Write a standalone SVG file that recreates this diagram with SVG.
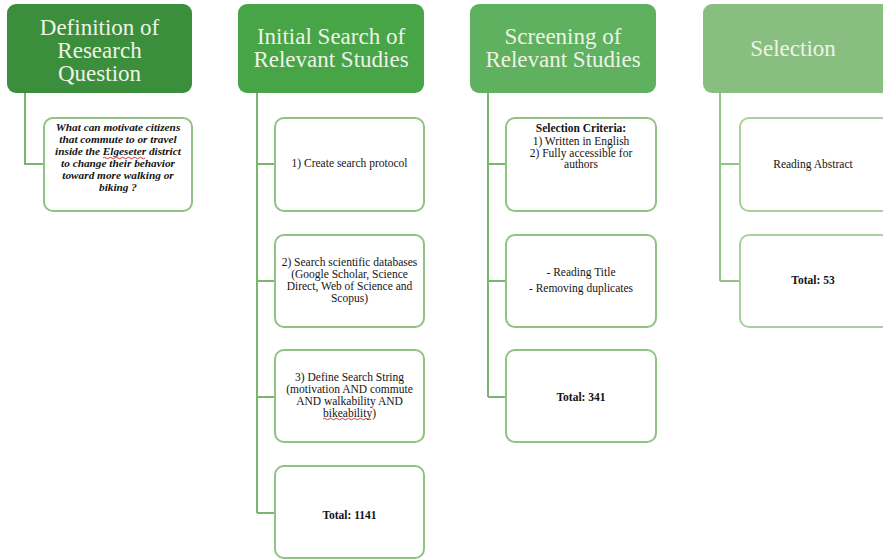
<svg xmlns="http://www.w3.org/2000/svg" width="883" height="560" viewBox="0 0 883 560">
<style>
.hd text{font-family:"Liberation Serif","Times New Roman",serif;font-size:23px;fill:#eef3e6;text-anchor:middle}
.bx rect{fill:#ffffff;stroke:#8fc283;stroke-width:2}
.c4 rect{stroke:#a9d09c}
.t{font-family:"Liberation Serif","Times New Roman",serif;font-size:11.5px;fill:#141414;text-anchor:middle}
.b{font-weight:bold}
.q{font-weight:bold;font-style:italic;font-size:11.3px}
.cn{fill:none;stroke:#7ab670;stroke-width:2}
.sq{fill:none;stroke:#d42020;stroke-width:0.9}
</style>
<rect width="883" height="560" fill="#ffffff"/>
<g id="connectors">
<path class="cn" d="M25 93V164H44"/>
<path class="cn" d="M257 93V513M257 164H275M257 281H275M257 397H275M257 513H275"/>
<path class="cn" d="M488 93V397M488 164H506M488 281H506M488 397H506"/>
<path class="cn" d="M720 93V281M720 164H740M720 281H740" style="stroke:#92c489"/>
</g>
<g id="h1" class="hd"><rect x="7" y="4" width="185" height="89" rx="9" fill="#3b8e3b"/>
<text x="99.5" y="35">Definition of</text><text x="99.5" y="58">Research</text><text x="99.5" y="81">Question</text></g>
<g id="h2" class="hd"><rect x="238" y="4" width="186" height="89" rx="9" fill="#47a447"/>
<text x="331" y="44">Initial Search of</text><text x="331" y="67">Relevant Studies</text></g>
<g id="h3" class="hd"><rect x="470" y="4" width="186" height="89" rx="9" fill="#5fb05f"/>
<text x="563" y="44">Screening of</text><text x="563" y="67">Relevant Studies</text></g>
<g id="h4" class="hd"><rect x="703" y="4" width="190" height="89" rx="9" fill="#88bf80"/>
<text x="793" y="56">Selection</text></g>

<g id="q" class="bx"><rect x="44" y="118" width="148" height="93" rx="9"/>
<text class="t q" x="118" y="131"><tspan x="118">What can motivate citizens</tspan><tspan x="118" dy="12">that commute to or travel</tspan><tspan x="118" dy="12">inside the Elgeseter district</tspan><tspan x="118" dy="12">to change their behavior</tspan><tspan x="118" dy="12">toward more walking or</tspan><tspan x="118" dy="12">biking ?</tspan></text>
<path class="sq" d="M103 158q1.5 -1.5 3 0t3 0t3 0t3 0t3 0t3 0t3 0t3 0t3 0t3 0t3 0t3 0t3 0t3 0"/></g>

<g id="s1" class="bx"><rect x="275" y="118" width="149" height="93" rx="9"/>
<text class="t" x="349.5" y="167">1) Create search protocol</text></g>
<g id="s2" class="bx"><rect x="275" y="235" width="149" height="92" rx="9"/>
<text class="t" x="349.5" y="266"><tspan x="349.5">2) Search scientific databases</tspan><tspan x="349.5" dy="12">(Google Scholar, Science</tspan><tspan x="349.5" dy="12">Direct, Web of Science and</tspan><tspan x="349.5" dy="12">Scopus)</tspan></text></g>
<g id="s3" class="bx"><rect x="275" y="350" width="149" height="92" rx="9"/>
<text class="t" x="349.5" y="381"><tspan x="349.5">3) Define Search String</tspan><tspan x="349.5" dy="12">(motivation AND commute</tspan><tspan x="349.5" dy="12">AND walkability AND</tspan><tspan x="349.5" dy="12">bikeability)</tspan></text>
<path class="sq" d="M323 419q1.5 -1.5 3 0t3 0t3 0t3 0t3 0t3 0t3 0t3 0t3 0t3 0t3 0t3 0t3 0t3 0t3 0t3 0"/></g>
<g id="s4" class="bx"><rect x="275" y="466" width="149" height="92" rx="9"/>
<text class="t b" x="349.5" y="519">Total: 1141</text></g>

<g id="r1" class="bx"><rect x="506" y="118" width="150" height="93" rx="9"/>
<text class="t" x="581" y="132"><tspan x="581" class="b">Selection Criteria:</tspan><tspan x="581" dy="12.5">1) Written in English</tspan><tspan x="581" dy="12">2) Fully accessible for</tspan><tspan x="581" dy="11.5">authors</tspan></text></g>
<g id="r2" class="bx"><rect x="506" y="235" width="150" height="92" rx="9"/>
<text class="t" x="581" y="276"><tspan x="581">- Reading Title</tspan><tspan x="581" dy="16">- Removing duplicates</tspan></text></g>
<g id="r3" class="bx"><rect x="506" y="350" width="150" height="92" rx="9"/>
<text class="t b" x="581" y="401">Total: 341</text></g>

<g id="e1" class="bx c4"><rect x="740" y="118" width="150" height="93" rx="9"/>
<text class="t" x="813" y="168">Reading Abstract</text></g>
<g id="e2" class="bx c4"><rect x="740" y="235" width="150" height="92" rx="9"/>
<text class="t b" x="813" y="284">Total: 53</text></g>
</svg>
